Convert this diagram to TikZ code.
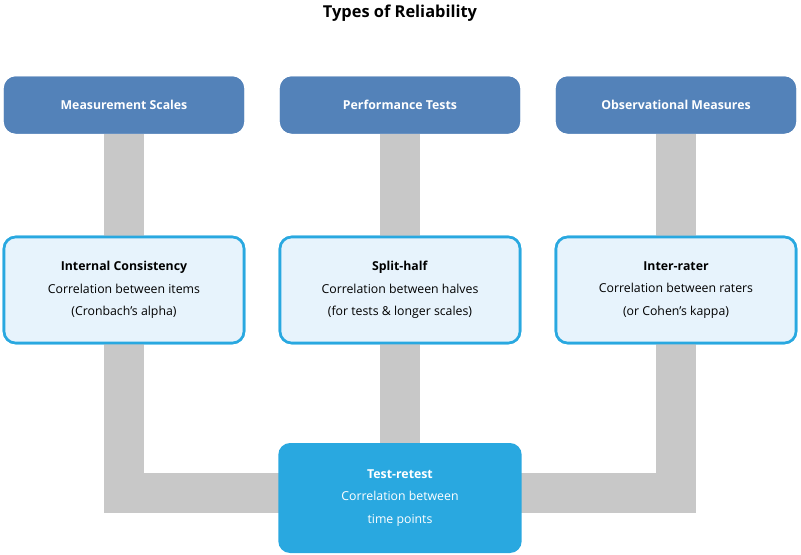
\documentclass[tikz,border=0pt]{standalone}
\usepackage{fontspec}
\setmainfont{Open Sans}
\definecolor{topblue}{HTML}{5382B9}
\definecolor{lightfill}{HTML}{E7F3FC}
\definecolor{cyanline}{HTML}{29A8E0}
\definecolor{barGray}{HTML}{C8C8C8}
\tikzset{
  topbox/.style={draw=none, fill=topblue, rounded corners=10pt, text=white,
    minimum width=7.2cm, minimum height=1.71cm, font=\fontsize{10.5}{13}\selectfont\bfseries},
  midbox/.style={draw=cyanline, line width=2.2pt, fill=lightfill, rounded corners=10pt,
    minimum width=7.2cm, minimum height=3.18cm, align=center, font=\fontsize{10.5}{19}\selectfont},
  basebox/.style={fill=cyanline, rounded corners=10pt, text=white,
    minimum width=7.3cm, minimum height=3.3cm, align=center, font=\fontsize{10.5}{19}\selectfont},
  bar/.style={draw=barGray, line width=1.2cm}
}
\begin{document}
\begin{tikzpicture}[x=0.03cm, y=-0.03cm]
  \useasboundingbox (0,0) rectangle (801,555);
  % --- Titolo ---
  \node[font=\fontsize{14}{16}\selectfont\bfseries] (title) at (400,13) {Types of Reliability};
  % --- Riquadri superiori ---
  \node[topbox] (ms) at (124,105) {Measurement Scales};
  \node[topbox] (pt) at (400,105) {Performance Tests};
  \node[topbox] (om) at (676,105) {Observational Measures};
  % --- Riquadri intermedi ---
  \node[midbox] (ic) at (124,290) {\textbf{Internal Consistency}\\Correlation between items\\(Cronbach’s alpha)};
  \node[midbox] (sh) at (400,290) {\textbf{Split-half}\\Correlation between halves\\(for tests \& longer scales)};
  \node[midbox] (ir) at (676,290) {\textbf{Inter-rater}\\Correlation between raters\\(or Cohen’s kappa)};
  % --- Riquadro in basso ---
  \coordinate (lj) at (280,493);
  \coordinate (rj) at (520,493);
  % --- Barre grigie ---
  \begin{scope}[on background layer/.style={}]
  \draw[bar] (ms.south) -- (ic.north);
  \draw[bar] (pt.south) -- (sh.north);
  \draw[bar] (om.south) -- (ir.north);
  \draw[bar] (ic.south) -- (124,493) -- (lj);
  \draw[bar] (ir.south) -- (676,493) -- (rj);
  \draw[bar] (sh.south) -- (400,450);
  \end{scope}
  \node[basebox] (tr) at (400,498) {\textbf{Test-retest}\\Correlation between\\time points};
  % ridisegno dei riquadri sopra le barre
  \node[topbox] at (ms) {Measurement Scales};
  \node[topbox] at (pt) {Performance Tests};
  \node[topbox] at (om) {Observational Measures};
  \node[midbox] at (ic) {\textbf{Internal Consistency}\\Correlation between items\\(Cronbach’s alpha)};
  \node[midbox] at (sh) {\textbf{Split-half}\\Correlation between halves\\(for tests \& longer scales)};
  \node[midbox] at (ir) {\textbf{Inter-rater}\\Correlation between raters\\(or Cohen’s kappa)};
\end{tikzpicture}
\end{document}
